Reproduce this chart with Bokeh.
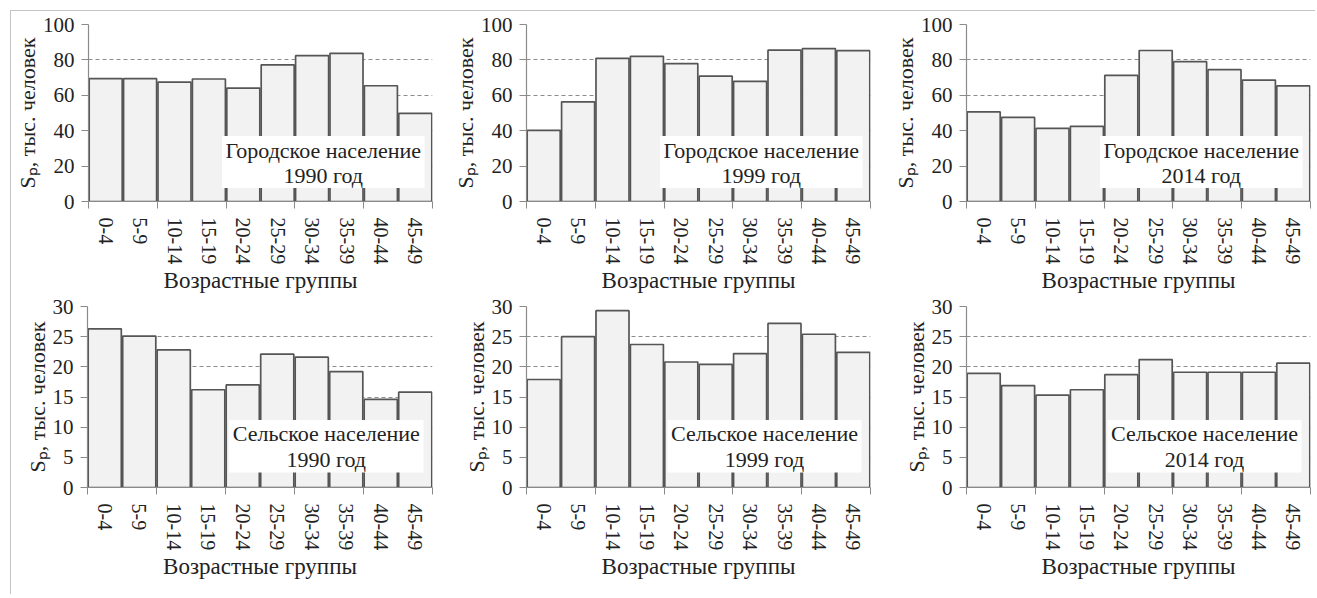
from bokeh.plotting import figure
from bokeh.models import Range1d, FixedTicker, Label, ColumnDataSource, BoxAnnotation
from bokeh.layouts import row, column
from bokeh.embed import file_html
from bokeh.resources import INLINE

ages = ["0-4", "5-9", "10-14", "15-19", "20-24", "25-29", "30-34", "35-39", "40-44", "45-49"]

urban_1990 = [69.4, 69.4, 67.4, 69.2, 64.1, 77.2, 82.4, 83.7, 65.4, 49.8]
urban_1999 = [40.2, 56.3, 80.9, 82.0, 77.9, 70.8, 67.9, 85.5, 86.4, 85.2]
urban_2014 = [50.6, 47.5, 41.3, 42.5, 71.3, 85.3, 79.0, 74.5, 68.6, 65.3]
rural_1990 = [26.3, 25.1, 22.8, 16.2, 17.0, 22.1, 21.6, 19.2, 14.6, 15.8]
rural_1999 = [17.9, 25.0, 29.3, 23.7, 20.8, 20.4, 22.2, 27.2, 25.4, 22.4]
rural_2014 = [18.9, 16.9, 15.3, 16.2, 18.7, 21.2, 19.1, 19.1, 19.1, 20.6]

captions_urban = [("Городское население", "1990 год"), ("Городское население", "1999 год"),
                  ("Городское население", "2014 год")]
captions_rural = [("Сельское население", "1990 год"), ("Сельское население", "1999 год"),
                  ("Сельское население", "2014 год")]

x_label = "Возрастные группы"
y_label = "Sₚ, тыс. человек"

FONT = "Liberation Serif"
AXIS_GRAY = "#8a8a8a"
TEXT = "#222222"


def make_panel(values, ymax, ystep, caption, w, h, bl, br, bt, bb, box, line_ys):
    n = len(ages)
    p = figure(width=w, height=h, x_range=Range1d(-0.5, n - 0.5), y_range=Range1d(0, ymax),
               output_backend="svg", toolbar_location=None,
               min_border_left=bl, min_border_right=br, min_border_top=bt, min_border_bottom=bb)
    p.outline_line_color = None
    p.background_fill_color = "white"
    p.border_fill_color = "white"

    src = ColumnDataSource(dict(x=list(range(n)), top=values))
    p.vbar(x="x", top="top", bottom=0, width=0.96, source=src,
           fill_color="#f2f2f2", line_color="#555555", line_width=1.7)

    yt = list(range(0, ymax + 1, ystep))
    p.yaxis.ticker = FixedTicker(ticks=yt)
    p.ygrid.ticker = FixedTicker(ticks=yt)
    p.ygrid.grid_line_color = "#8c8c8c"
    p.ygrid.grid_line_dash = "4 3"
    p.ygrid.grid_line_width = 1
    p.xgrid.grid_line_color = None

    p.xaxis.ticker = FixedTicker(ticks=list(range(n)), minor_ticks=[i - 0.5 for i in range(0, n + 1, 2)])
    p.xaxis.major_label_overrides = {i: a for i, a in enumerate(ages)}
    p.xaxis.major_label_orientation = "vertical"
    p.xaxis.major_tick_out = 0
    p.xaxis.major_tick_in = 0
    p.xaxis.major_tick_line_color = None
    p.xaxis.minor_tick_out = 7
    p.xaxis.minor_tick_in = 0
    p.xaxis.minor_tick_line_color = AXIS_GRAY
    p.xaxis.major_label_standoff = 9
    p.xaxis.axis_label = x_label
    p.xaxis.axis_label_standoff = 1

    p.yaxis.major_tick_out = 7
    p.yaxis.major_tick_in = 0
    p.yaxis.major_tick_line_color = AXIS_GRAY
    p.yaxis.minor_tick_line_color = None
    p.yaxis.major_label_standoff = 7
    p.yaxis.axis_label = y_label
    p.yaxis.axis_label_standoff = 0

    for ax in (p.xaxis, p.yaxis):
        ax.axis_line_color = AXIS_GRAY
        ax.axis_line_width = 1.2
        ax.major_label_text_font = FONT
        ax.major_label_text_color = TEXT
        ax.axis_label_text_font = FONT
        ax.axis_label_text_font_style = "normal"
        ax.axis_label_text_color = TEXT
    p.xaxis.major_label_text_font_size = "20px"
    p.yaxis.major_label_text_font_size = "21px"
    p.xaxis.axis_label_text_font_size = "23px"
    p.yaxis.axis_label_text_font_size = "22px"

    left, right, bottom, top = box
    p.add_layout(BoxAnnotation(left=left, right=right, bottom=bottom, top=top,
                               fill_color="white", fill_alpha=1.0, line_color=None))
    for txt, ly in zip(caption, line_ys):
        p.add_layout(Label(x=(left + right) / 2, y=ly, text=txt,
                           text_align="center", text_baseline="middle",
                           text_font=FONT, text_font_size="22px", text_color=TEXT))
    return p


top_h, bot_h = 285, 298
specs = [(429, 76, 8), (437, 86, 7), (438, 89, 5)]

top_vals = [urban_1990, urban_1999, urban_2014]
bot_vals = [rural_1990, rural_1999, rural_2014]

urban_box = (3.38, 9.27, 7.6, 37.0)
rural_box = (3.6, 9.24, 2.5, 11.2)
urban_lines = (29.0, 14.6)
rural_lines = (8.95, 4.6)

top_row = [make_panel(v, 100, 20, c, w, top_h, bl, br, 13, 92, urban_box, urban_lines)
           for v, c, (w, bl, br) in zip(top_vals, captions_urban, specs)]
bot_row = [make_panel(v, 30, 5, c, w, bot_h, bl, br, 10, 107, rural_box, rural_lines)
           for v, c, (w, bl, br) in zip(bot_vals, captions_rural, specs)]

layout = column(row(*top_row), row(*bot_row),
                styles={"border-top": "1px solid #c4c4c4", "border-left": "1px solid #c4c4c4"},
                margin=(10, 0, 0, 10))

open("out.html", "w").write(file_html(layout, INLINE))
